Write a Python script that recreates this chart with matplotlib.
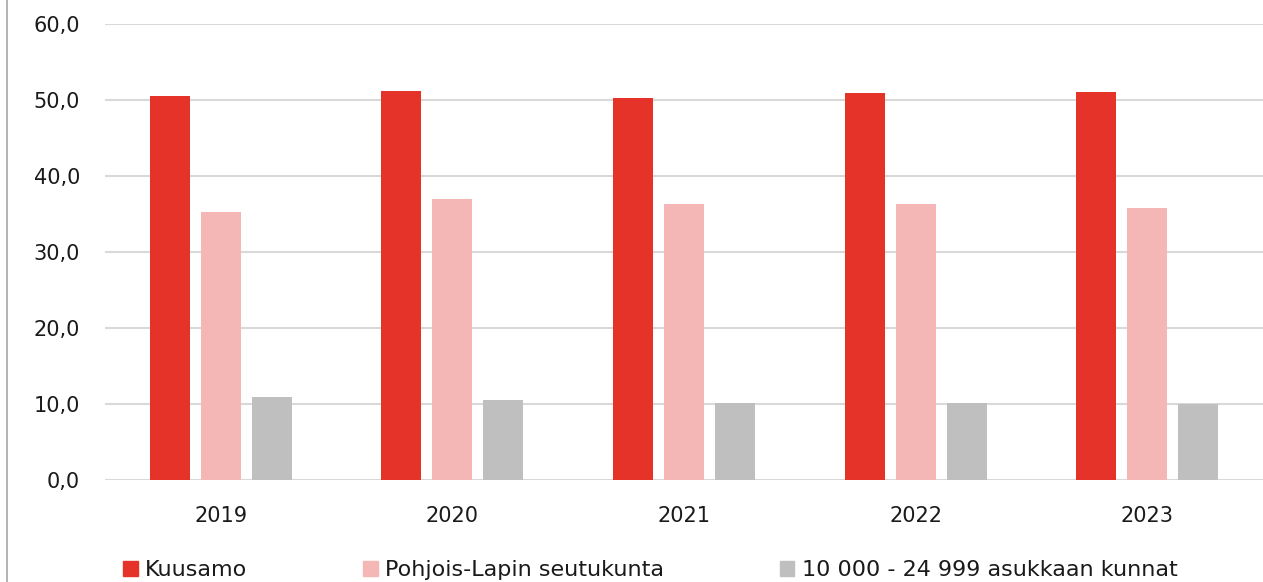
import numpy as np
import matplotlib.pyplot as plt
from matplotlib.lines import Line2D

# Aineisto
vuodet = ['2019', '2020', '2021', '2022', '2023']
kuusamo = [50.5, 51.2, 50.3, 50.9, 51.1]
pohjois_lappi = [35.3, 37.0, 36.3, 36.3, 35.8]
kunnat_10_25k = [10.95, 10.5, 10.1, 10.1, 10.0]
sarjat = ['Kuusamo', 'Pohjois-Lapin seutukunta', '10 000 - 24 999 asukkaan kunnat']
varit = ['#E5332A', '#F5B7B5', '#BFBFBF']

plt.rcParams['font.family'] = ['DejaVu Sans']

fig = plt.figure(figsize=(12.63, 5.82), dpi=100)
ax = fig.add_axes([105 / 1263, 1 - 480 / 582, (1263 - 105) / 1263, (480 - 24) / 582])

x = np.arange(len(vuodet))
leveys = 0.173
askel = 0.22
for i, (arvot, vari) in enumerate(zip([kuusamo, pohjois_lappi, kunnat_10_25k], varit)):
    ax.bar(x + (i - 1) * askel, arvot, width=leveys, color=vari, zorder=3, label=sarjat[i])

ax.set_xlim(-0.5, len(vuodet) - 0.5)
ax.set_ylim(0, 60)
ax.set_yticks(range(0, 61, 10))
ax.set_yticklabels([f'{v},0' for v in range(0, 61, 10)])
ax.set_xticks(x)
ax.set_xticklabels(vuodet)
ax.tick_params(axis='both', length=0, labelsize=15, colors='#1a1a1a')
ax.tick_params(axis='y', pad=18)
ax.tick_params(axis='x', pad=19)
ax.grid(axis='y', color='#D9D9D9', linewidth=1.5, zorder=0)
for s in ax.spines.values():
    s.set_visible(False)

# kaavion vasen reunaviiva
fig.add_artist(Line2D([7 / 1263, 7 / 1263], [0, 1], color='#A6A6A6', linewidth=1.2))

kahvat = [plt.Rectangle((0, 0), 1, 1, color=c) for c in varit]
fig.legend(kahvat, sarjat, loc='center', bbox_to_anchor=(0.515, 0.02), ncol=3,
           frameon=False, fontsize=16, handlelength=0.65, handleheight=0.65,
           handletextpad=0.35, columnspacing=5.2, labelcolor='#1a1a1a')

plt.savefig('out.png', dpi=100)
